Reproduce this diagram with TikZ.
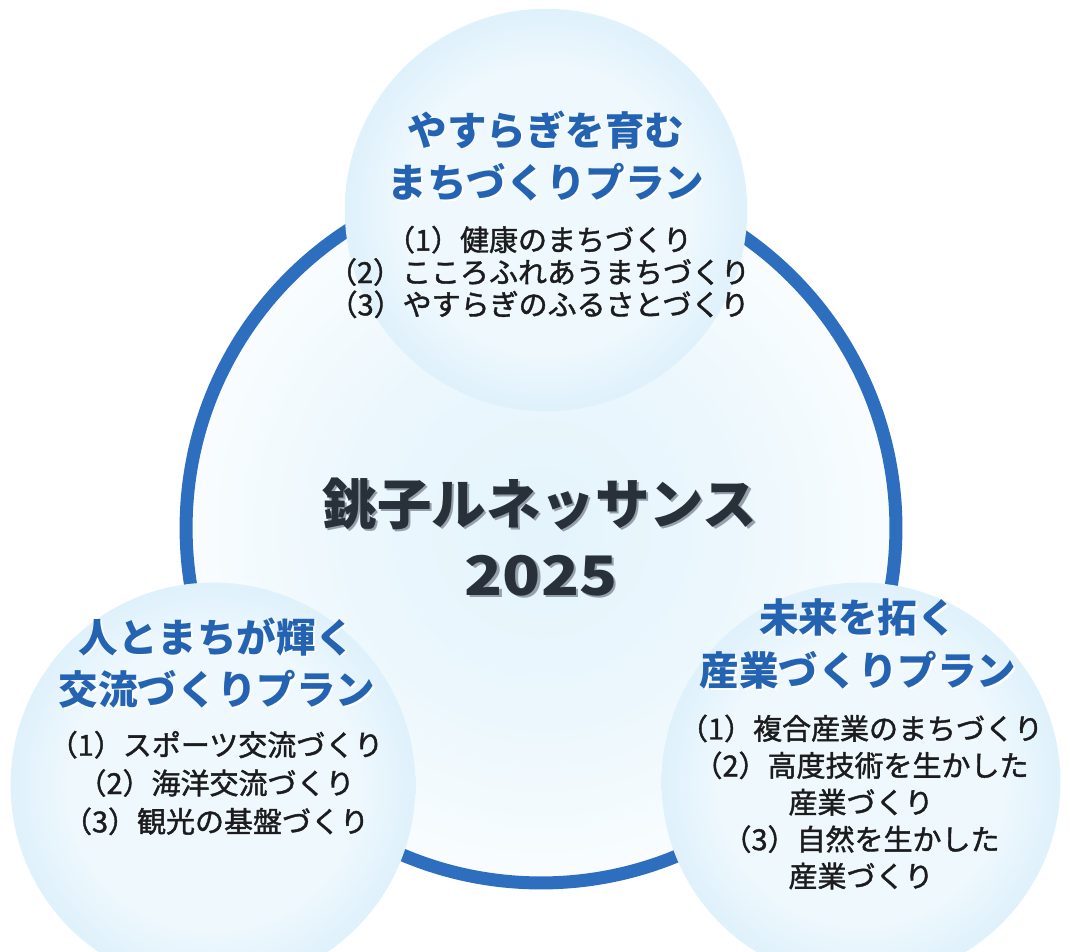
\documentclass[tikz,border=0pt]{standalone}
\usepackage{fontspec}
\newfontfamily\cjk{Noto Sans CJK JP}
\newfontfamily\cjkmed{Noto Sans CJK JP}[FakeBold=1.4]
\definecolor{ringblue}{RGB}{45,110,190}
\definecolor{balledge}{RGB}{155,205,239}
\definecolor{ballmid}{RGB}{196,228,248}
\definecolor{ballcenter}{RGB}{238,248,253}
\definecolor{ringin}{RGB}{228,244,252}
\definecolor{titleblue}{RGB}{36,98,178}
\definecolor{itemtext}{RGB}{28,28,30}
\definecolor{centertext}{RGB}{40,48,58}
\definecolor{shadowgray}{RGB}{150,160,172}
\pgfdeclareradialshading{ballshade}{\pgfpoint{0bp}{0bp}}{color(0bp)=(ballcenter); color(18bp)=(ballcenter); color(37bp)=(ballmid); color(50bp)=(balledge)}
\pgfdeclareradialshading{ringshade}{\pgfpoint{0bp}{0bp}}{color(0bp)=(ringin); color(14bp)=(ringin!70!white); color(30bp)=(white); color(50bp)=(white)}
\newcommand\glowline[1]{\makebox[0pt][l]{\hspace{1pt}\raisebox{-1pt}{\textcolor{white}{#1}}}#1}
\newcommand\dropline[1]{\makebox[0pt][l]{\hspace{1.3pt}\raisebox{-1.3pt}{\textcolor{shadowgray}{#1}}}#1}
\begin{document}
\begin{tikzpicture}[x=0.02cm,y=-0.02cm,
  ball/.style={circle, inner sep=0pt, minimum size=8.05cm, shading=ballshade},
  plantitle/.style={text=titleblue, align=center, inner sep=0pt,
    font=\cjk\bfseries\fontsize{22.5}{30}\selectfont},
  planitems/.style={text=itemtext, align=center, inner sep=0pt,
    font=\cjkmed\fontsize{16.5}{#1}\selectfont},
  maintitle/.style={text=centertext, align=center, inner sep=0pt,
    font=\cjk\bfseries\fontsize{31}{38}\selectfont}
]
\useasboundingbox (0,0) rectangle (1070,951);
\clip (0,0) rectangle (1070,951);
\fill[white] (0,0) rectangle (1070,951);
% big ring
\node[circle, inner sep=0pt, minimum size=14.2cm, shading=ringshade] (inner) at (541,528) {};
\node[circle, inner sep=0pt, minimum size=14.2cm, draw=ringblue, line width=7.4pt] (ring) at (541,528) {};
% three circles
\node[ball] (top) at (546,210) {};
\node[ball, minimum size=8.1cm] (left) at (213,785) {};
\node[ball, minimum size=7.98cm] (right) at (861,782) {};
% center title
\node[maintitle] (mainA) at (540,505) {\dropline{銚子ルネッサンス}};
\node[maintitle, xscale=1.15] (mainB) at (541,577) {\dropline{2025}};
% top circle
\node[plantitle] (toptitle) at (546,157) {\glowline{やすらぎを育む}\\\glowline{まちづくりプラン}};
\node[planitems=18.4pt] (topitems) at (539,272) {（1）健康のまちづくり\\（2）こころふれあうまちづくり\\（3）やすらぎのふるさとづくり};
% left circle
\node[plantitle] (lefttitle) at (217,664) {\glowline{人とまちが輝く}\\\glowline{交流づくりプラン}};
\node[planitems=21.8pt] (leftitems) at (216,783) {（1）スポーツ交流づくり\\（2）海洋交流づくり\\（3）観光の基盤づくり};
% right circle
\node[plantitle] (righttitle) at (858,645) {\glowline{未来を拓く}\\\glowline{産業づくりプラン}};
\node[planitems=21pt] (rightitems) at (861,802) {（1）複合産業のまちづくり\\（2）高度技術を生かした\\産業づくり\\（3）自然を生かした\\産業づくり};
\end{tikzpicture}
\end{document}
